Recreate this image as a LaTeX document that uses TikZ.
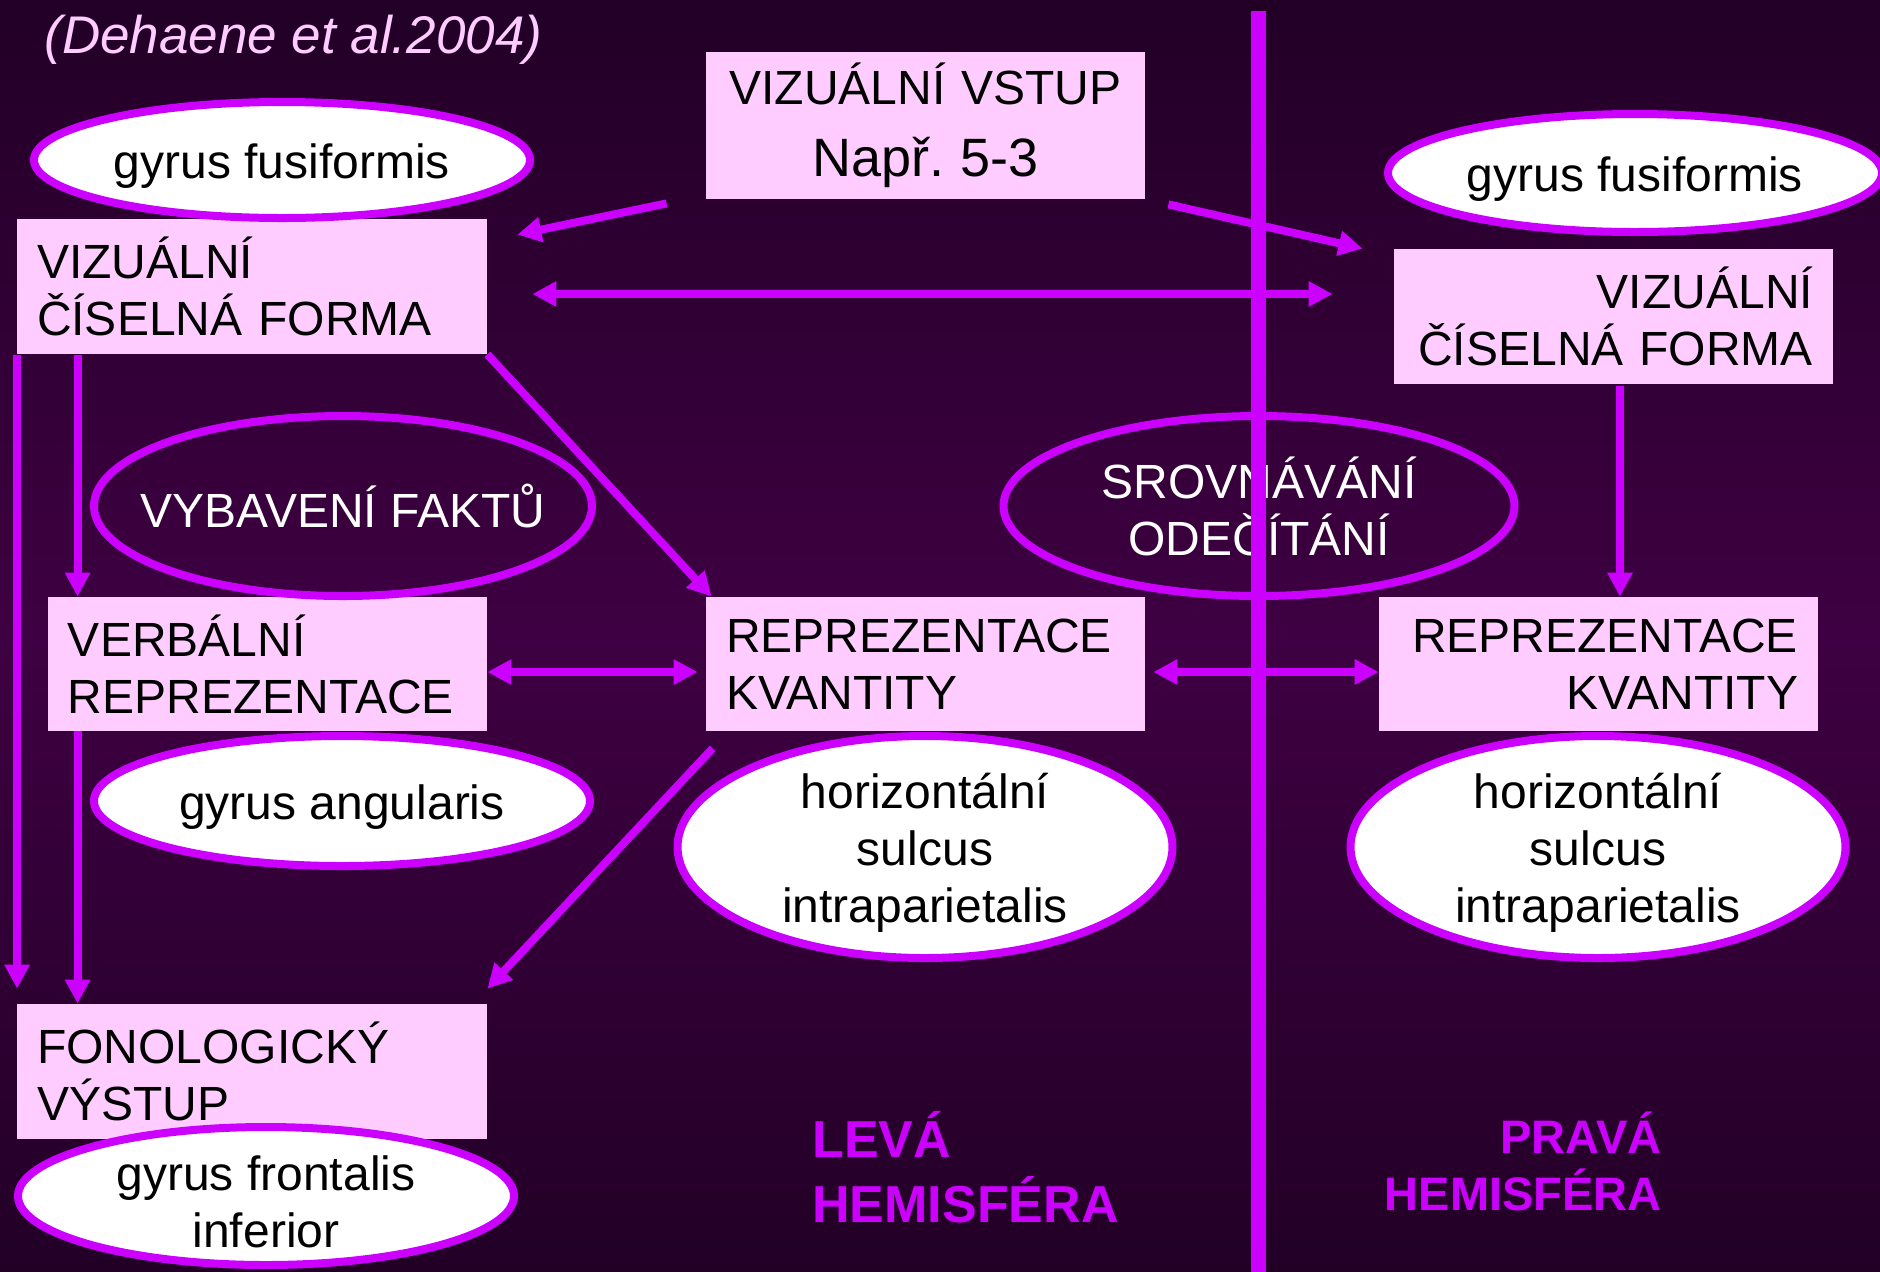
\documentclass[tikz,border=0pt]{standalone}
\usepackage{fontspec}
\setmainfont{Liberation Sans}
\usetikzlibrary{arrows.meta,calc,shapes.geometric}
\definecolor{mag}{HTML}{CC00FF}
\definecolor{boxpink}{HTML}{FFCCFF}
\definecolor{bgdark}{HTML}{220026}
\definecolor{bgmid}{HTML}{3E0042}
\frenchspacing
\newcommand{\topstrut}{\rule{0pt}{23pt}}
\begin{document}
\begin{tikzpicture}[x=0.5pt,y=-0.5pt,
  txt/.style={font=\fontsize{24}{28.5}\selectfont},
  pbox/.style={txt, fill=boxpink, draw=none, rectangle, inner xsep=10pt, inner ysep=0pt},
  wide/.style={minimum width=235pt, text width=215pt, minimum height=67.5pt},
  narrow/.style={minimum width=219.5pt, text width=199.5pt, minimum height=67pt},
  brain/.style={txt, ellipse, draw=mag, line width=4pt, fill=white, inner xsep=-20pt, inner ysep=-7pt, align=center},
  task/.style={txt, ellipse, draw=mag, line width=4pt, text=white, inner xsep=-20pt, inner ysep=-3pt, align=center},
  arr/.style={draw=mag, line width=4pt, -{Triangle[length=12pt,width=12pt]}},
  darr/.style={draw=mag, line width=4pt, {Triangle[length=12pt,width=12pt]}-{Triangle[length=12pt,width=12pt]}},
  hemi/.style={text=mag, inner sep=0pt},
]
\useasboundingbox (0,0) rectangle (1880,1271);
\fill[top color=bgdark, bottom color=bgdark, middle color=bgmid] (0,0) rectangle (1880,1271);

% boxes
\node[pbox, minimum width=219.5pt, text width=199.5pt, minimum height=73.5pt, align=center] (vin) at (925.5,125.5)
  {VIZUÁLNÍ VSTUP\\[7.5pt]{\fontsize{27}{32}\selectfont Např. 5-3}};
\node[pbox, wide, align=left] (vcfL) at (252,286.5) {VIZUÁLNÍ\\ČÍSELNÁ FORMA};
\node[pbox, narrow, align=left] (verbL) at (267.5,664) {VERBÁLNÍ\\REPREZENTACE};
\node[pbox, wide, align=left] (fono) at (252,1071.5) {FONOLOGICKÝ\\VÝSTUP};
\node[pbox, narrow, align=left] (reprM) at (925.5,664) {REPREZENTACE\\KVANTITY};
\node[pbox, narrow, minimum height=67.5pt, align=right] (vcfR) at (1613.5,316.5) {VIZUÁLNÍ\\ČÍSELNÁ FORMA};
\node[pbox, narrow, align=right] (reprR) at (1598.5,664) {REPREZENTACE\\KVANTITY};

% ellipses
\node[brain, minimum width=248pt, minimum height=58pt] (gfL) at (282,160) {\topstrut gyrus fusiformis};
\node[task, minimum width=249pt, minimum height=90pt] (fakty) at (343,506) {VYBAVENÍ FAKTŮ};
\node[brain, minimum width=248pt, minimum height=65pt] (gaL) at (342,801) {\topstrut gyrus angularis};
\node[brain, minimum width=248pt, minimum height=69pt] (gfi) at (266,1196) {\topstrut gyrus frontalis\\inferior};
\node[brain, minimum width=247.5pt, minimum height=111pt] (hsiM) at (925,847) {\topstrut horizontální\\sulcus\\intraparietalis};
\node[task, minimum width=255.5pt, minimum height=90pt] (srov) at (1259,506) {SROVNÁVÁNÍ\\ODEČÍTÁNÍ};
\node[brain, minimum width=247pt, minimum height=59pt] (gfR) at (1635,173) {\topstrut gyrus fusiformis};
\node[brain, minimum width=247.5pt, minimum height=111pt] (hsiR) at (1598,847) {\topstrut horizontální\\sulcus\\intraparietalis};

% arrows
\draw[arr] ($(vin.south west)+(-39,4)$) -- ($(vcfL.north east)+(30,16)$);
\draw[arr] ($(vin.south east)+(23,5)$) -- ($(vcfR.north west)+(-31,0)$);
\draw[darr] ($(vcfL.east)+(45,7.5)$) -- ($(vcfR.west)+(-61,-22.5)$);
\draw[arr] (vcfL.south east) -- ($(reprM.north west)+(6,0)$);
\draw[arr] ($(vcfL.south west)+(61,1)$) -- ($(verbL.north west)+(30,0)$);
\draw[arr] ($(vcfL.south west)+(0.5,1)$) -- ($(fono.north west)+(0.5,-15)$);
\draw[arr] ($(verbL.south west)+(30,0)$) -- ($(fono.north west)+(61,0)$);
\draw[darr] ($(verbL.east)+(0,8)$) -- ($(reprM.west)+(-8,8)$);
\draw[arr] ($(reprM.south west)+(7,17)$) -- ($(fono.north east)+(0,-15)$);
\draw[darr] ($(reprM.east)+(8,8)$) -- ($(reprR.west)+(0,8)$);
\draw[arr] ($(vcfR.south)+(6.5,2)$) -- ($(reprR.north)+(21.5,0)$);

% hemisphere divider
\coordinate (divtop) at (1258,11);
\coordinate (divbot) at (1258,1280);
\draw[mag, line width=7.5pt] (divtop) -- (divbot);

% labels
\node[anchor=base west, inner sep=0pt, text=boxpink, font=\fontsize{26.5}{30}\selectfont\itshape] (cite) at (44,53) {(Dehaene et al.2004)};
\node[hemi, anchor=base west, align=left, font=\fontsize{26}{32.5}\selectfont\bfseries] (leva) at (812,1222) {LEVÁ\\HEMISFÉRA};
\node[hemi, anchor=base east, align=right, font=\fontsize{23.5}{28.5}\selectfont\bfseries] (prava) at (1662,1210) {PRAVÁ\\HEMISFÉRA};
\end{tikzpicture}
\end{document}
